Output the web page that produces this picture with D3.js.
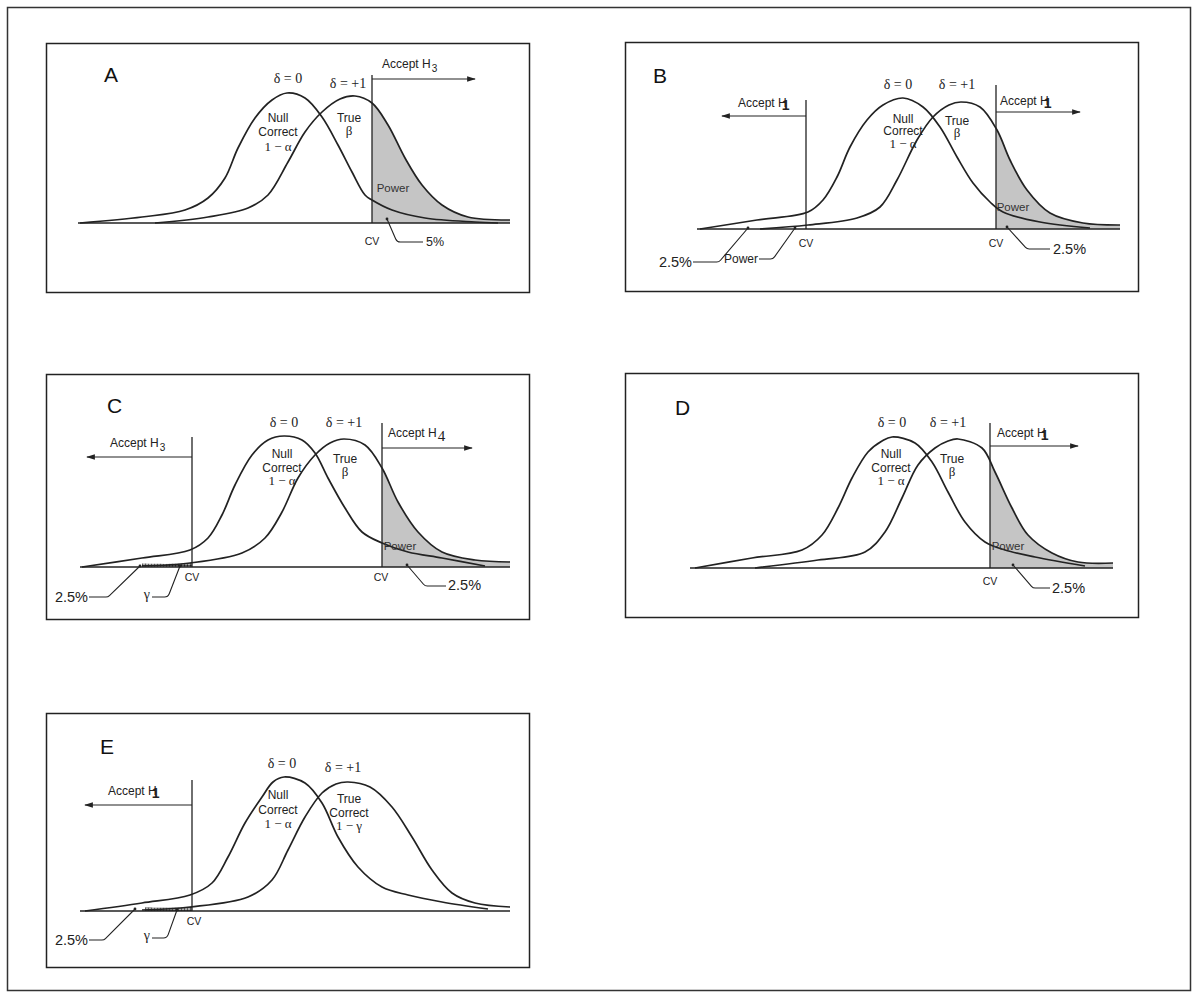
<!DOCTYPE html>
<html>
<head>
<meta charset="utf-8">
<script src="https://cdn.jsdelivr.net/npm/d3@7"></script>
<style>
  body { margin: 0; background: #fff; }
  svg { display: block; }
</style>
</head>
<body>
<svg id="fig" width="1199" height="998"></svg>
<script>
// curves: [distance along baseline, height above baseline]
const nullA = [[2,0],[64,6],[107,13],[130,25],[147,45],[160,75],[177,105],[194,123],[209,130],[227,125],[244,106],[260,78],[274,51],[287,28],[294,23],[314,13],[347,5],[397,1],[420,0]];
const trueA = [[77,0],[130,6],[170,15],[190,28],[210,61],[227,91],[244,111],[262,124],[277,127],[294,120],[310,98],[327,65],[344,38],[364,18],[390,6],[432,3]];

const nullB = [[3,0],[60,9],[111,17],[126,29],[140,52],[153,82],[170,109],[186,124],[206,131],[226,122],[243,102],[260,72],[276,46],[293,27],[306,17],[343,7],[393,1]];
const trueB = [[63,0],[111,4],[160,11],[183,22],[200,49],[220,89],[236,112],[252,124],[264,127],[283,122],[300,99],[313,69],[330,39],[353,16],[386,6],[423,4]];

const nullC = [[2,0],[62,9],[110,17],[128,29],[142,52],[155,82],[172,112],[188,127],[204,131],[222,127],[235,114],[248,89],[265,59],[282,35],[302,24],[328,15],[362,9],[405,1]];
const trueC = [[62,1],[110,4],[162,14],[185,29],[202,55],[218,89],[235,112],[250,124],[264,128],[285,122],[302,99],[318,65],[338,35],[362,15],[395,7],[430,5]];

const nullD = [[5,0],[62,10],[112,18],[132,33],[148,60],[162,90],[178,116],[192,127],[202,131],[225,125],[242,106],[258,76],[275,46],[295,26],[315,18],[345,11],[395,2]];
const trueD = [[65,0],[128,8],[175,16],[195,36],[212,70],[228,103],[245,120],[258,127],[268,129],[292,120],[305,96],[322,60],[338,33],[362,15],[388,6],[423,5]];

const nullE = [[5,0],[62,8],[110,16],[132,28],[148,54],[165,88],[182,114],[193,129],[204,134],[225,128],[242,108],[258,74],[278,44],[302,24],[328,16],[362,9],[408,2]];
const trueE = [[62,1],[110,4],[168,14],[192,31],[208,61],[225,94],[242,118],[256,127],[268,129],[290,124],[312,104],[332,74],[352,41],[372,18],[395,8],[430,4]];

// critical values (same units as the curves)
const cvA = [294];
const cvB = [109, 299];
const cvC = [112, 302];
const cvD = [300];
const cvE = [112];

// texts
const panelLetters = ["A", "B", "C", "D", "E"];
const deltaLabels = ["\u03b4 = 0", "\u03b4 = +1"];
const nullLabel = ["Null", "Correct", "1 \u2212 \u03b1"];
const trueBeta = ["True", "\u03b2"];
const trueGamma = ["True", "Correct", "1 \u2212 \u03b3"];

const SANS = "'Liberation Sans', Arial, sans-serif";
const SERIF = "'Liberation Serif', 'Times New Roman', serif";
const INK = "#222";

// layout (pixel placement of each panel and its annotations)
const layout = [
  { frame: [46,43,529,292], x0: 78, base: 223, len: 432, nul: nullA, tru: trueA, cv: cvA,
    letter: [26,141], delta: [[210,140],[270,135]],
    accept: [{ i: 0, top: 148, arrowY: 144, to: 397, at: [304,155], sub: "3", style: "sub" }],
    nullAt: [200,[101,87,72]], trueAt: [271,[101,88]], trueLines: trueBeta,
    power: [315,31], shade: 0, gamma: null,
    cvLab: [[294,-22]],
    leaders: [{ pts: [[309,4],[319,-19],[345,-19]], text: "5%", at: [348,-23], anchor: "start", size: 12.5 }] },
  { frame: [625,42,1138,291], x0: 697, base: 229, len: 423, nul: nullB, tru: trueB, cv: cvB,
    letter: [-44,146], delta: [[201,140],[260,140]],
    accept: [{ i: 0, top: 129, arrowY: 113, to: 25, at: [41,122], sub: "1", style: "bold" },
             { i: 1, top: 144, arrowY: 117, to: 383, at: [303,124], sub: "1", style: "bold" }],
    nullAt: [206,[106,94,81]], trueAt: [260,[104,92]], trueLines: trueBeta,
    power: [316,18], shade: 1, gamma: null,
    cvLab: [[109,-18],[299,-18]],
    leaders: [{ pts: [[310,2],[330,-20],[353,-20]], text: "2.5%", at: [356,-25], anchor: "start", size: 14.5 },
              { pts: [[51,1],[22,-33],[-4,-33]], text: "2.5%", at: [-5,-38], anchor: "end", size: 14.5 },
              { pts: [[98,1],[76,-30],[62,-30]], text: "Power", at: [61,-34], anchor: "end", size: 12 }] },
  { frame: [46,374,529,619], x0: 80, base: 567, len: 430, nul: nullC, tru: trueC, cv: cvC,
    letter: [27,154], delta: [[204,140],[264,140]],
    accept: [{ i: 0, top: 130, arrowY: 110, to: 7, at: [30,120], sub: "3", style: "sub" },
             { i: 1, top: 144, arrowY: 119, to: 392, at: [308,130], sub: "4", style: "serif" }],
    nullAt: [202,[109,95,82]], trueAt: [265,[104,91]], trueLines: trueBeta,
    power: [320,17], shade: 1, gamma: { from: 60, i: 0 },
    cvLab: [[112,-14],[301,-14]],
    leaders: [{ pts: [[327,2],[345,-19],[366,-19]], text: "2.5%", at: [368,-23], anchor: "start", size: 14.5 },
              { pts: [[60,1],[28,-30],[9,-30]], text: "2.5%", at: [8,-35], anchor: "end", size: 14.5 },
              { pts: [[100,1],[88,-30],[72,-30]], text: "\u03b3", at: [70,-32], anchor: "end", size: 14, serif: true }] },
  { frame: [625,373,1138,617], x0: 690, base: 568, len: 423, nul: nullD, tru: trueD, cv: cvD,
    letter: [-15,153], delta: [[202,141],[258,141]],
    accept: [{ i: 0, top: 145, arrowY: 122, to: 388, at: [307,131], sub: "1", style: "bold" }],
    nullAt: [201,[110,96,83]], trueAt: [262,[105,92]], trueLines: trueBeta,
    power: [318,18], shade: 0, gamma: null,
    cvLab: [[300,-17]],
    leaders: [{ pts: [[323,3],[343,-20],[360,-20]], text: "2.5%", at: [362,-25], anchor: "start", size: 14.5 }] },
  { frame: [46,713,529,967], x0: 80, base: 911, len: 430, nul: nullE, tru: trueE, cv: cvE,
    letter: [20,157], delta: [[202,143],[263,139]],
    accept: [{ i: 0, top: 131, arrowY: 106, to: 5, at: [28,116], sub: "1", style: "bold" }],
    nullAt: [198,[112,97,83]], trueAt: [269,[108,94,81]], trueLines: trueGamma,
    power: null, shade: null, gamma: { from: 65, i: 0 },
    cvLab: [[114,-14]],
    leaders: [{ pts: [[55,2],[24,-29],[9,-29]], text: "2.5%", at: [8,-34], anchor: "end", size: 14.5 },
              { pts: [[97,1],[87,-27],[72,-27]], text: "\u03b3", at: [70,-29], anchor: "end", size: 14, serif: true }] }
];

const svg = d3.select("#fig");
const defs = svg.append("defs");

defs.append("marker")
    .attr("id", "arrow")
    .attr("viewBox", "0 -4 10 8")
    .attr("refX", 9)
    .attr("refY", 0)
    .attr("markerWidth", 9)
    .attr("markerHeight", 7)
    .attr("markerUnits", "userSpaceOnUse")
    .attr("orient", "auto")
  .append("path")
    .attr("d", "M0,-3.2L10,0L0,3.2Z")
    .attr("fill", INK);

let pat = defs.append("pattern")
    .attr("id", "dots")
    .attr("width", 3)
    .attr("height", 3)
    .attr("patternUnits", "userSpaceOnUse");
pat.append("rect").attr("width", 3).attr("height", 3).attr("fill", "#ddd");
pat.append("circle").attr("cx", 1.5).attr("cy", 1.5).attr("r", 1.2).attr("fill", "#222");

svg.append("rect")
    .attr("x", 7.5).attr("y", 7.5)
    .attr("width", 1183).attr("height", 983)
    .attr("fill", "none")
    .attr("stroke", "#333")
    .attr("stroke-width", 1.5);

function acceptText(g, px, py, sub, style) {
    let t = g.append("text")
        .attr("x", px).attr("y", py)
        .attr("font-family", SANS)
        .attr("font-size", 12)
        .attr("fill", INK);
    t.append("tspan").text("Accept H");
    let s = t.append("tspan").text(sub);
    if (style === "sub") {
        s.attr("font-size", 10).attr("dx", 1).attr("dy", 4);
    } else if (style === "serif") {
        s.attr("font-family", SERIF).attr("font-size", 15).attr("dx", 1).attr("dy", 4);
    } else if (style === "bold") {
        s.attr("font-weight", "bold").attr("font-size", 14).attr("dx", -5).attr("dy", 3);
    }
}

function drawPanel(p, k) {
    let g = svg.append("g");

    g.append("rect")
        .attr("x", p.frame[0] + 0.5)
        .attr("y", p.frame[1] + 0.5)
        .attr("width", p.frame[2] - p.frame[0])
        .attr("height", p.frame[3] - p.frame[1])
        .attr("fill", "#fff")
        .attr("stroke", INK)
        .attr("stroke-width", 1.5);

    let x = d3.scaleLinear().domain([0, 430]).range([p.x0, p.x0 + 430]);
    let y = d3.scaleLinear().domain([0, 150]).range([p.base, p.base - 150]);

    let curve = d3.curveCatmullRom.alpha(0.5);
    let line = d3.line()
        .x(d => x(d[0]))
        .y(d => y(Math.max(d[1], 0)))
        .curve(curve);
    let area = d3.area()
        .x(d => x(d[0]))
        .y0(y(0))
        .y1(d => y(d[1]))
        .curve(curve);

    // power region (right of the critical value, under the true curve)
    if (p.shade !== null) {
        let cv = p.cv[p.shade];
        defs.append("clipPath").attr("id", "shade" + k)
          .append("rect")
            .attr("x", x(cv)).attr("y", y(150))
            .attr("width", x(p.len) - x(cv) + 4)
            .attr("height", 151);
        g.append("path")
            .datum(p.tru)
            .attr("d", area)
            .attr("fill", "#c5c5c5")
            .attr("clip-path", `url(#shade${k})`);
    }

    // gamma region (left of the lower critical value, under the true curve)
    if (p.gamma) {
        let cv = p.cv[p.gamma.i];
        defs.append("clipPath").attr("id", "gam" + k)
          .append("rect")
            .attr("x", x(p.gamma.from)).attr("y", y(20))
            .attr("width", x(cv) - x(p.gamma.from))
            .attr("height", 20);
        g.append("path")
            .datum(p.tru)
            .attr("d", d3.area().x(d => x(d[0])).y0(y(0)).y1(d => y(Math.max(d[1], 3.5))).curve(curve))
            .attr("fill", "url(#dots)")
            .attr("clip-path", `url(#gam${k})`);
    }

    // baseline
    g.append("line")
        .attr("x1", x(0)).attr("x2", x(p.len))
        .attr("y1", y(0)).attr("y2", y(0))
        .attr("stroke", INK)
        .attr("stroke-width", 1.6);

    // distributions
    g.selectAll(".dist")
        .data([p.nul, p.tru])
        .enter()
        .append("path")
        .classed("dist", true)
        .attr("d", line)
        .attr("fill", "none")
        .attr("stroke", INK)
        .attr("stroke-width", 1.7);

    // critical values with "accept" arrows
    p.accept.forEach(a => {
        let cx = x(p.cv[a.i]);
        g.append("line")
            .attr("x1", cx).attr("x2", cx)
            .attr("y1", y(0)).attr("y2", y(a.top))
            .attr("stroke", INK)
            .attr("stroke-width", 1.3);
        g.append("line")
            .attr("x1", cx).attr("x2", x(a.to))
            .attr("y1", y(a.arrowY)).attr("y2", y(a.arrowY))
            .attr("stroke", INK)
            .attr("stroke-width", 1.1)
            .attr("marker-end", "url(#arrow)");
        acceptText(g, x(a.at[0]), y(a.at[1]), a.sub, a.style);
    });

    // panel letter
    g.append("text")
        .attr("x", x(p.letter[0])).attr("y", y(p.letter[1]))
        .attr("font-family", SANS)
        .attr("font-size", 21)
        .attr("fill", "#111")
        .text(panelLetters[k]);

    // delta labels
    g.selectAll(".delta")
        .data(p.delta)
        .enter()
        .append("text")
        .attr("x", d => x(d[0]))
        .attr("y", d => y(d[1]))
        .attr("text-anchor", "middle")
        .attr("font-family", SERIF)
        .attr("font-size", 14)
        .attr("fill", INK)
        .text((d, i) => deltaLabels[i]);

    // labels inside the curves
    let inner = (lines, at) => {
        lines.forEach((s, i) => {
            let greek = /[\u03b1-\u03c9]/.test(s);
            g.append("text")
                .attr("x", x(at[0]))
                .attr("y", y(at[1][i]))
                .attr("text-anchor", "middle")
                .attr("font-family", greek ? SERIF : SANS)
                .attr("font-size", greek ? 13 : 12)
                .attr("fill", INK)
                .text(s);
        });
    };
    inner(nullLabel, p.nullAt);
    inner(p.trueLines, p.trueAt);

    if (p.power) {
        g.append("text")
            .attr("x", x(p.power[0])).attr("y", y(p.power[1]))
            .attr("text-anchor", "middle")
            .attr("font-family", SANS)
            .attr("font-size", 11.5)
            .attr("fill", "#333")
            .text("Power");
    }

    // CV labels under the baseline
    p.cvLab.forEach(c => {
        g.append("text")
            .attr("x", x(c[0])).attr("y", y(c[1]))
            .attr("text-anchor", "middle")
            .attr("font-family", SANS)
            .attr("font-size", 10.5)
            .attr("fill", INK)
            .text("CV");
    });

    // leader lines with their labels
    p.leaders.forEach(l => {
        let pts = l.pts.map(d => [x(d[0]), y(d[1])]);
        let path = d3.path();
        path.moveTo(pts[0][0], pts[0][1]);
        path.arcTo(pts[1][0], pts[1][1], pts[2][0], pts[2][1], 5);
        path.lineTo(pts[2][0], pts[2][1]);
        g.append("path")
            .attr("d", path.toString())
            .attr("fill", "none")
            .attr("stroke", INK)
            .attr("stroke-width", 1.1);
        g.append("circle")
            .attr("cx", pts[0][0]).attr("cy", pts[0][1])
            .attr("r", 1.4)
            .attr("fill", INK);
        g.append("text")
            .attr("x", x(l.at[0])).attr("y", y(l.at[1]))
            .attr("text-anchor", l.anchor)
            .attr("font-family", l.serif ? SERIF : SANS)
            .attr("font-size", l.size)
            .attr("fill", INK)
            .text(l.text);
    });
}

layout.forEach(drawPanel);
</script>
</body>
</html>
